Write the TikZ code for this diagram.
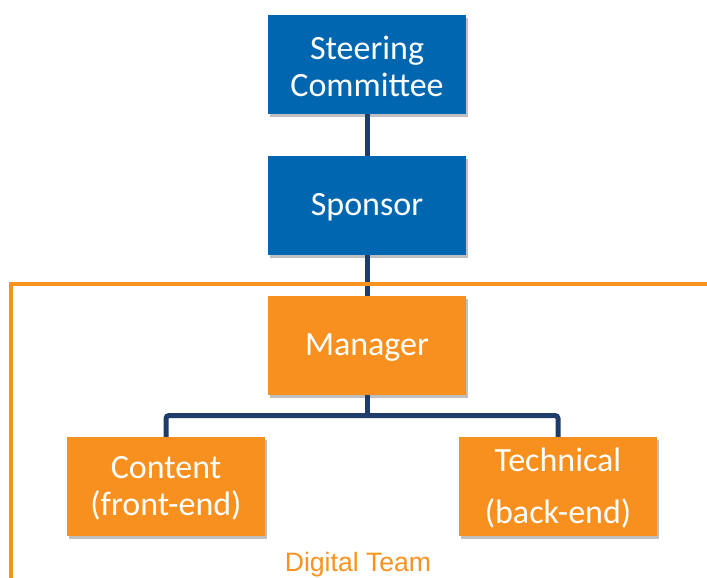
\documentclass[tikz,border=0pt]{standalone}
\usepackage{fontspec}
\setmainfont{Carlito}
\newfontfamily\arialfont{Liberation Sans}
\usetikzlibrary{shadows}
\definecolor{boxblue}{HTML}{0066B0}
\definecolor{boxorange}{HTML}{F7901E}
\definecolor{linkblue}{HTML}{1F3D6B}
\definecolor{teamorange}{HTML}{F7931E}
\newcommand{\lowertext}[1]{\raisebox{-2pt}[\height][\depth]{#1}}
\tikzset{
  box/.style={rectangle, minimum width=198pt, minimum height=99pt, inner sep=0pt,
    text=white, align=center, font=\fontsize{34}{37}\selectfont,
    drop shadow={shadow xshift=2pt, shadow yshift=-3pt, opacity=0.25, fill=black}},
  bluebox/.style={box, fill=boxblue},
  orangebox/.style={box, fill=boxorange},
  link/.style={draw=linkblue, line width=5pt, rounded corners=3pt},
  frame/.style={draw=teamorange, line width=4pt}
}
\begin{document}
\begin{tikzpicture}[x=1pt,y=-1pt]
\useasboundingbox (0,0) rectangle (707,578);
\node[bluebox] (steer) at (367,64.5) {\lowertext{\parbox{190pt}{\centering Steering\\Committee}}};
\node[bluebox] (spons) at (367,205.5) {\lowertext{Sponsor}};
\node[orangebox] (mgr) at (367,345.5) {\lowertext{Manager}};
\node[orangebox] (cont) at (166,486.5) {\lowertext{\parbox{190pt}{\centering Content\\(front-end)}}};
\node[orangebox] (tech) at (558,486.5) {\lowertext{\parbox{190pt}{\centering Technical\\[15pt](back-end)}}};
\coordinate (bus) at (367,415.5);
\draw[link] (steer.south) -- (spons.north);
\draw[link] (spons.south) -- (mgr.north);
\draw[link] (mgr.south) -- (bus);
\draw[link] (cont.north) |- (bus) -| (tech.north);
\coordinate (fcorner) at (10.5,284);
\coordinate (fright) at (712,284);
\coordinate (fbottom) at (10.5,582);
\draw[frame] (fright) -- (fcorner) -- (fbottom);
\node[text=teamorange, font=\arialfont\fontsize{26.6}{30}\selectfont] (team) at (358,565) {Digital Team};
\end{tikzpicture}
\end{document}
